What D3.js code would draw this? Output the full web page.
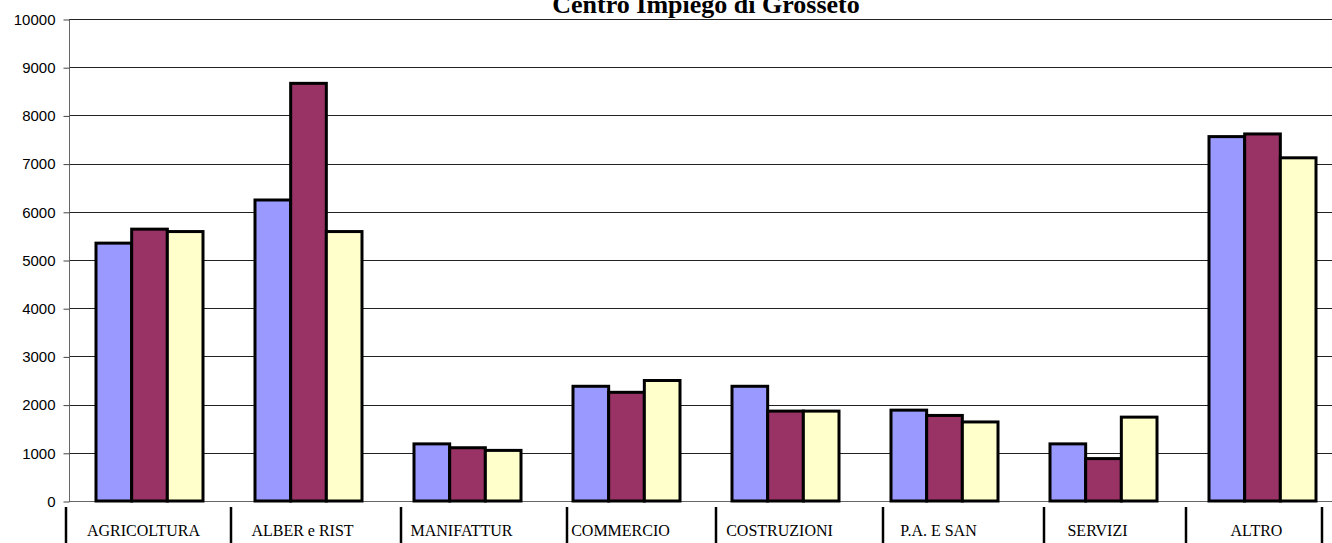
<!DOCTYPE html>
<html>
<head>
<meta charset="utf-8">
<script src="https://cdn.jsdelivr.net/npm/d3@7"></script>
<style>
  body { margin: 0; background: #fff; }
  svg { display: block; }
</style>
</head>
<body>
<svg id="chart"></svg>
<script>
// data
let categories = ['AGRICOLTURA', 'ALBER e RIST', 'MANIFATTUR', 'COMMERCIO', 'COSTRUZIONI', 'P.A. E SAN', 'SERVIZI', 'ALTRO']
let seriesNames = ['Serie 1', 'Serie 2', 'Serie 3']
let serie1 = [5350, 6245, 1185, 2380, 2380, 1885, 1185, 7560]
let serie2 = [5640, 8665, 1105, 2255, 1865, 1775, 880, 7615]
let serie3 = [5590, 5590, 1050, 2500, 1865, 1640, 1740, 7120]
let yTicks = [0, 1000, 2000, 3000, 4000, 5000, 6000, 7000, 8000, 9000, 10000]
let colors = ['#9999FF', '#993366', '#FFFFCC']

//layout
function getConfig(){
    let width = 1332, height = 543
    let plot = { left: 70, right: 1342, top: 19, bottom: 501 }
    // column lines of the category table under the chart (px)
    let sepX = [66, 231, 401, 567, 716, 883, 1044, 1186, 1322]
    let svg = d3.select('#chart')
        .attr('width', width)
        .attr('height', height)
    return { width, height, plot, sepX, svg }
}

function getScales(config){
    let {plot} = config
    let xScale = d3.scaleBand()
        .domain(categories)
        .range([plot.left, plot.right])
        .paddingInner(0.327)
        .paddingOuter(0.1635)
    let xInner = d3.scaleBand()
        .domain(seriesNames)
        .range([0, xScale.bandwidth()])
    let yScale = d3.scaleLinear()
        .domain([0, 10000])
        .range([plot.bottom, plot.top])
    return { xScale, xInner, yScale }
}

function drawAxes(scales, config){
    let {yScale} = scales
    let {svg, plot, width} = config

    // gridlines
    svg.append('g')
        .selectAll('line')
        .data(yTicks)
        .join('line')
        .attr('x1', plot.left - 1)
        .attr('x2', width)
        .attr('y1', d => Math.round(yScale(d)) + 0.5)
        .attr('y2', d => Math.round(yScale(d)) + 0.5)
        .attr('stroke', d => d === 0 ? '#666' : '#222')
        .attr('stroke-width', 1)

    let axisY = d3.axisLeft(yScale)
        .tickValues(yTicks)
        .tickSize(6)
        .tickPadding(8)
        .tickFormat(d3.format('d'))
    let g = svg.append('g')
        .attr('transform', `translate(${plot.left - 0.5},0.5)`)
        .call(axisY)
    g.select('.domain').attr('stroke', '#666').attr('d', `M0,${plot.top}V${plot.bottom}`)
    g.selectAll('.tick line').attr('stroke', '#444')
    g.selectAll('.tick text')
        .attr('fill', '#000')
        .style('font-family', '"Liberation Sans", Arial, sans-serif')
        .style('font-size', '15px')
}

function drawBars(scales, config){
    let {xScale, xInner, yScale} = scales
    let {svg} = config
    let series = [serie1, serie2, serie3]

    let groups = svg.append('g')
        .selectAll('g')
        .data(categories)
        .join('g')
        .attr('transform', d => `translate(${xScale(d)},0)`)

    groups.selectAll('rect')
        .data((c, i) => seriesNames.map((s, k) => ({ s, k, v: series[k][i] })))
        .join('rect')
        .attr('x', d => xInner(d.s))
        .attr('y', d => yScale(d.v))
        .attr('width', xInner.bandwidth())
        .attr('height', d => yScale(0) - yScale(d.v))
        .attr('fill', d => colors[d.k])
        .attr('stroke', '#000')
        .attr('stroke-width', 3)
}

function drawTable(scales, config){
    let {xScale} = scales
    let {svg, sepX, height} = config

    svg.append('g')
        .selectAll('line')
        .data(sepX)
        .join('line')
        .attr('x1', d => d)
        .attr('x2', d => d)
        .attr('y1', 507)
        .attr('y2', height)
        .attr('stroke', '#000')
        .attr('stroke-width', 2.5)

    svg.append('g')
        .selectAll('text')
        .data(categories)
        .join('text')
        .attr('x', d => xScale(d) + xScale.bandwidth() / 2 - 6)
        .attr('y', 536)
        .attr('text-anchor', 'middle')
        .style('font-family', '"Liberation Serif", "Times New Roman", serif')
        .style('font-size', '16px')
        .text(d => d)
}

function drawTitle(config){
    config.svg.append('text')
        .attr('x', 706)
        .attr('y', 13)
        .attr('text-anchor', 'middle')
        .style('font-family', '"Liberation Serif", "Times New Roman", serif')
        .style('font-weight', 'bold')
        .style('font-size', '26px')
        .text('Centro Impiego di Grosseto')
}

function drawChart(){
    let config = getConfig()
    let scales = getScales(config)
    drawAxes(scales, config)
    drawBars(scales, config)
    drawTable(scales, config)
    drawTitle(config)
}

drawChart()
</script>
</body>
</html>
